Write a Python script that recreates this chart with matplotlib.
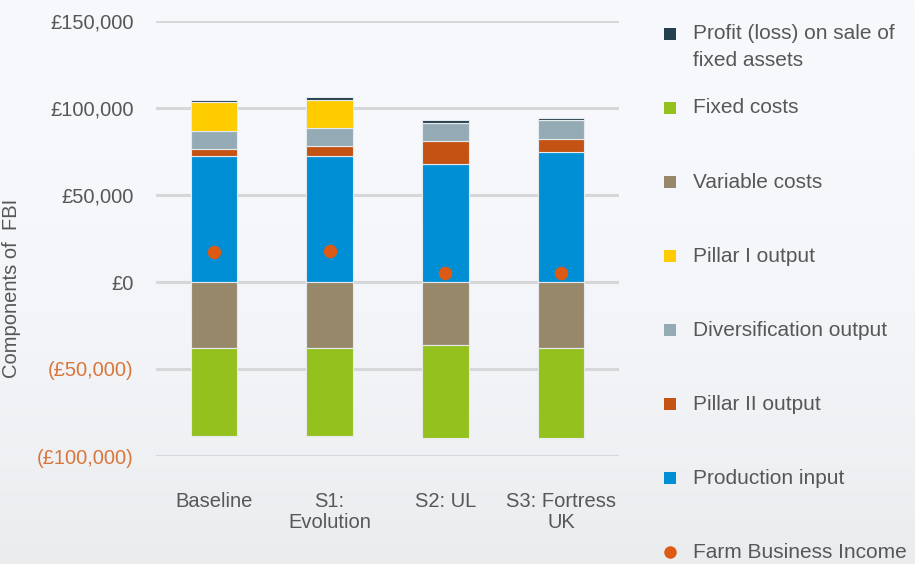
import matplotlib
matplotlib.use('Agg')
import matplotlib.pyplot as plt
import numpy as np
from matplotlib.patches import Rectangle
from matplotlib.lines import Line2D
from matplotlib.ticker import FuncFormatter

plt.rcParams['font.family'] = ['Liberation Sans', 'DejaVu Sans']

scenarios = ['Baseline', 'S1:\nEvolution', 'S2: UL', 'S3: Fortress\nUK']

# positive components (stacked upward from zero)
production_input = [72200, 72200, 67600, 74900]
pillar_ii_output = [4400, 5700, 13400, 7500]
diversification_output = [10400, 10400, 10500, 10700]
pillar_i_output = [16300, 16500, 0, 0]
profit_on_sale = [1500, 1500, 1400, 1300]

# negative components (stacked downward from zero)
variable_costs = [-37900, -37900, -36400, -37900]
fixed_costs = [-50400, -50400, -53400, -51900]

farm_business_income = [17000, 17800, 5200, 5200]

yticks = [-100000, -50000, 0, 50000, 100000, 150000]

c_profit = '#243f4d'
c_fixed = '#95c11f'
c_variable = '#97886a'
c_pillar1 = '#ffcc00'
c_divers = '#94abb5'
c_pillar2 = '#c45213'
c_production = '#008fd5'
c_fbi = '#dd5a15'
c_text = '#575757'

fig = plt.figure(figsize=(9.15, 5.64), dpi=100)
fig.patch.set_facecolor('#f7f9fc')

# soft background wash, lighter at the top
bg = fig.add_axes([0, 0, 1, 1], zorder=-10)
grad = np.linspace(0, 1, 256)[:, None]
bg_colors = np.array([247, 249, 253]) * (1 - grad[..., None] ** 2) + np.array([234, 236, 238]) * grad[..., None] ** 2
bg.imshow(bg_colors.astype(np.uint8), aspect='auto', extent=[0, 1, 0, 1], origin='upper')
bg.axis('off')

ax = fig.add_axes([156 / 915, 1 - 456 / 564, 463 / 915, 435 / 564])
ax.patch.set_alpha(0)

x = np.arange(len(scenarios))
w = 0.4
edge = dict(edgecolor='#e6eaee', linewidth=0.8)

bottom = np.zeros(len(scenarios))
for vals, col in [(production_input, c_production), (pillar_ii_output, c_pillar2),
                  (diversification_output, c_divers), (pillar_i_output, c_pillar1),
                  (profit_on_sale, c_profit)]:
    ax.bar(x, vals, w, bottom=bottom, color=col, zorder=3, **edge)
    bottom += np.array(vals)

bottom = np.zeros(len(scenarios))
for vals, col in [(variable_costs, c_variable), (fixed_costs, c_fixed)]:
    ax.bar(x, vals, w, bottom=bottom, color=col, zorder=3, **edge)
    bottom += np.array(vals)

ax.scatter(x, farm_business_income, s=95, color=c_fbi, zorder=4, linewidths=0)

ax.set_xlim(-0.5, 3.5)
ax.set_ylim(-100000, 150000)
ax.set_yticks(yticks)
ax.yaxis.grid(True, color='#d6d7d9', linewidth=2.2, zorder=0)
ax.set_axisbelow(True)


def money(v, pos):
    if v < 0:
        return '(£{:,.0f})'.format(-v)
    return '£{:,.0f}'.format(v)


ax.yaxis.set_major_formatter(FuncFormatter(money))
ax.tick_params(axis='y', length=0, pad=16, labelsize=14.5, labelcolor=c_text)
for lbl, v in zip(ax.get_yticklabels(), yticks):
    if v < 0:
        lbl.set_color('#d9763a')

ax.set_xticks(x)
ax.set_xticklabels(scenarios, fontsize=14.5, color=c_text, linespacing=1.1)
ax.tick_params(axis='x', length=0, pad=26)

for s in ax.spines.values():
    s.set_visible(False)

ax.set_ylabel('Components of  FBI', fontsize=14.5, color=c_text)
ax.yaxis.set_label_coords((21 - 156) / 463, (456 - 288) / 435)

# legend drawn on the right-hand side
legend_items = [
    ('Profit (loss) on sale of\nfixed assets', c_profit, 's'),
    ('Fixed costs', c_fixed, 's'),
    ('Variable costs', c_variable, 's'),
    ('Pillar I output', c_pillar1, 's'),
    ('Diversification output', c_divers, 's'),
    ('Pillar II output', c_pillar2, 's'),
    ('Production input', c_production, 's'),
    ('Farm Business Income', c_fbi, 'o'),
]
for i, (label, col, mk) in enumerate(legend_items):
    yf = 1 - (34 + i * 74.0) / 564
    if mk == 's':
        fig.add_artist(Rectangle((664 / 915, yf - 6 / 564), 12 / 915, 12 / 564,
                                 transform=fig.transFigure, color=col, lw=0))
    else:
        fig.add_artist(Line2D([670 / 915], [yf], transform=fig.transFigure,
                              marker='o', markersize=9, color=col, markeredgewidth=0))
    if '\n' in label:
        fig.text(693 / 915, yf + 10 / 564, label, fontsize=15, color=c_text,
                 va='top', linespacing=1.5)
    else:
        fig.text(693 / 915, yf, label, fontsize=15, color=c_text, va='center')

fig.savefig('out.png', dpi=100, facecolor=fig.get_facecolor())
